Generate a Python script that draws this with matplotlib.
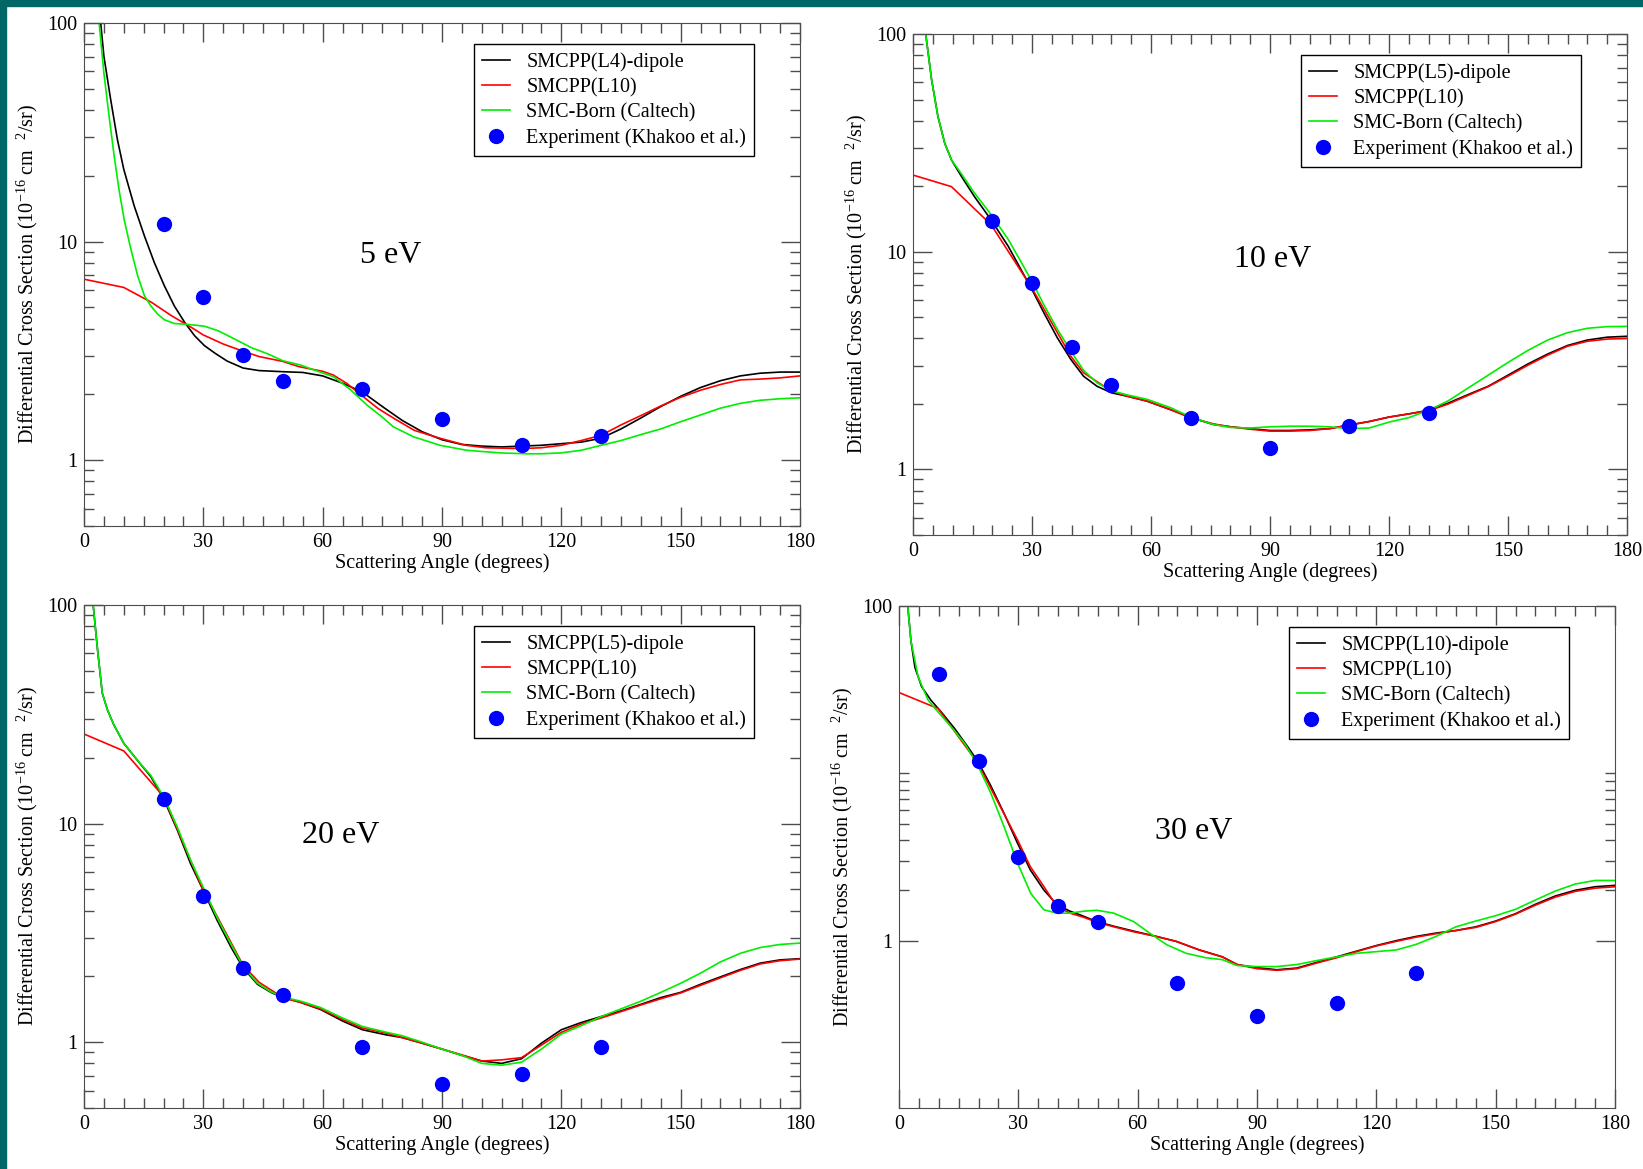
import matplotlib
matplotlib.use('Agg')
import matplotlib.pyplot as plt
from matplotlib.patches import Rectangle
from matplotlib.ticker import FixedLocator, LogLocator, FuncFormatter, MultipleLocator

# ---- 5 eV ----
ang5_dip = [4.2, 5, 6.7, 8.4, 10, 12.6, 15.2, 17.7, 20.2, 22.7, 25.3, 27.8, 30.3, 33, 36, 40, 44, 50,
            55, 60, 65, 70, 75, 80, 85, 90, 95, 100, 105, 110, 115, 120, 125, 130, 135, 140, 145,
            150, 155, 160, 165, 170, 175, 180]
dcs5_dip = [100, 70.5, 44.7, 29.3, 21.4, 14.6, 10.6, 8.0, 6.28, 5.08, 4.27, 3.71, 3.34, 3.08, 2.84,
            2.64, 2.57, 2.54, 2.52, 2.43, 2.25, 2.05, 1.76, 1.52, 1.35, 1.24, 1.18, 1.16, 1.15, 1.16,
            1.17, 1.19, 1.21, 1.26, 1.39, 1.56, 1.76, 1.96, 2.15, 2.31, 2.43, 2.5, 2.53, 2.53]
ang5_l10 = [0, 10, 17, 22, 27, 30, 35, 40, 44, 50, 54, 60, 62.7, 66, 71, 74, 78, 83, 89.5, 96, 101,
            110, 115, 120, 125, 130, 135, 140, 145, 150, 155, 160, 165, 170, 175, 180]
dcs5_l10 = [6.73, 6.17, 5.27, 4.58, 4.05, 3.74, 3.4, 3.15, 2.98, 2.83, 2.68, 2.55, 2.45, 2.25, 1.9,
            1.72, 1.55, 1.37, 1.26, 1.17, 1.14, 1.13, 1.14, 1.17, 1.23, 1.30, 1.45, 1.60, 1.77, 1.94,
            2.09, 2.22, 2.33, 2.35, 2.38, 2.43]
ang5_born = [3.8, 5, 6.3, 7.6, 8.8, 10.1, 11.8, 13.5, 15.2, 16.8, 18.5, 20.2, 22.7, 25.3, 27.8, 30.3,
             33.7, 37.9, 42.1, 46.3, 50, 54.3, 58, 62.7, 67, 71.1, 74.5, 77.8, 82.8, 89.5, 96.2,
             104.6, 111.3, 115, 120, 125, 130, 135, 140, 145, 150, 155, 160, 165, 170, 175, 180]
dcs5_born = [100, 59, 37.5, 24.5, 17.3, 12.6, 9.2, 6.97, 5.65, 5.08, 4.66, 4.39, 4.22, 4.19, 4.15,
             4.1, 3.91, 3.58, 3.27, 3.06, 2.85, 2.73, 2.58, 2.41, 2.1, 1.79, 1.6, 1.42, 1.28, 1.17,
             1.11, 1.08, 1.07, 1.07, 1.08, 1.11, 1.17, 1.23, 1.31, 1.39, 1.50, 1.61, 1.73, 1.82,
             1.88, 1.91, 1.93]

# ---- 10 eV ----
ang10_dip = [3.2, 4.7, 6.3, 8, 9.7, 12.2, 15.5, 19.7, 24, 27.2, 30, 33, 36.4, 39.8, 43, 46.4, 50, 54,
             59, 65, 70, 75.7, 80, 85, 90, 95, 100, 105, 110, 115, 120, 125, 130, 135, 140, 145, 150,
             155, 160, 165, 170, 175, 180]
dcs10_dip = [100, 61.5, 41.7, 31.5, 26.4, 22.2, 17.9, 14.0, 10.6, 8.3, 6.7, 5.24, 4.02, 3.2, 2.68,
             2.41, 2.25, 2.17, 2.06, 1.88, 1.73, 1.61, 1.57, 1.54, 1.51, 1.51, 1.52, 1.54, 1.60, 1.66,
             1.74, 1.80, 1.87, 2.02, 2.21, 2.41, 2.71, 3.05, 3.39, 3.71, 3.93, 4.05, 4.09]
ang10_l10 = [0, 9.7, 19.7, 30, 39.8, 43, 50, 54, 59, 65, 70, 75.7, 80, 85, 90, 95, 100, 105, 110, 115,
             120, 125, 130, 135, 140, 145, 150, 155, 160, 165, 170, 175, 180]
dcs10_l10 = [22.5, 19.9, 13.3, 6.8, 3.31, 2.78, 2.29, 2.17, 2.06, 1.88, 1.73, 1.62, 1.57, 1.53, 1.50,
             1.50, 1.51, 1.54, 1.60, 1.66, 1.74, 1.80, 1.86, 2.0, 2.19, 2.40, 2.68, 3.01, 3.35, 3.68,
             3.88, 3.97, 4.0]
ang10_born = [3.2, 4.7, 6.3, 8, 9.7, 12.2, 15.5, 19.7, 24, 27.2, 30, 33, 36.4, 40, 43, 46.4, 50, 54,
              59, 65, 70, 75.7, 80, 85, 90, 95, 100, 105, 110, 115, 120, 125, 130, 135, 140, 145,
              150, 155, 160, 165, 170, 175, 180]
dcs10_born = [100, 61.5, 41.7, 31.5, 26.4, 22.8, 18.6, 14.8, 11.4, 9.0, 7.3, 5.7, 4.4, 3.45, 2.85,
              2.5, 2.3, 2.2, 2.1, 1.92, 1.74, 1.61, 1.56, 1.55, 1.57, 1.58, 1.58, 1.57, 1.54, 1.55,
              1.65, 1.73, 1.87, 2.07, 2.37, 2.71, 3.1, 3.52, 3.93, 4.25, 4.45, 4.53, 4.54]

# ---- 20 eV ----
ang20_dip = [2.3, 3.4, 4.6, 5.9, 7.5, 10, 13.4, 16.8, 20, 23.5, 26.8, 30, 33.5, 37, 40, 43.6, 47, 50,
             54.5, 59.5, 65, 70, 76, 80, 85, 90, 95, 100, 105, 110, 115, 120, 125, 130, 135, 140, 145,
             150, 155, 160, 165, 170, 175, 180]
dcs20_dip = [100, 62.5, 39.5, 33.1, 28.3, 23.3, 19.5, 16.4, 13.0, 9.3, 6.55, 4.94, 3.6, 2.71, 2.19,
             1.84, 1.69, 1.6, 1.52, 1.41, 1.25, 1.14, 1.08, 1.05, 0.99, 0.93, 0.87, 0.82, 0.80, 0.84,
             0.99, 1.14, 1.23, 1.31, 1.39, 1.49, 1.60, 1.69, 1.84, 1.99, 2.15, 2.30, 2.38, 2.41]
ang20_l10 = [0, 10, 20, 30, 40, 44, 50, 54.5, 59.5, 65, 70, 76, 80, 85, 90, 95, 100, 105, 110, 115,
             120, 125, 130, 135, 140, 145, 150, 155, 160, 165, 170, 175, 180]
dcs20_l10 = [25.7, 21.5, 13.3, 4.94, 2.25, 1.88, 1.6, 1.52, 1.42, 1.27, 1.16, 1.1, 1.05, 0.99, 0.93,
             0.875, 0.82, 0.83, 0.85, 0.97, 1.11, 1.21, 1.29, 1.38, 1.48, 1.58, 1.68, 1.82, 1.97, 2.13,
             2.28, 2.36, 2.40]
ang20_born = ang20_dip
dcs20_born = [100, 62.5, 39.5, 33.1, 28.3, 23.3, 19.5, 16.6, 13.3, 9.6, 6.8, 5.1, 3.7, 2.8, 2.22,
              1.86, 1.70, 1.61, 1.54, 1.44, 1.29, 1.18, 1.11, 1.07, 1.0, 0.93, 0.87, 0.80, 0.785,
              0.81, 0.93, 1.09, 1.19, 1.31, 1.42, 1.54, 1.69, 1.86, 2.07, 2.33, 2.55, 2.71, 2.80, 2.84]

# ---- 30 eV ----
ang30_dip = [2.2, 3, 4, 5.7, 8, 10.6, 14, 17.3, 19.8, 23, 26.4, 29.8, 33, 36.4, 39.7, 43, 46.4, 49.7,
             54, 59, 64.7, 69.7, 75.5, 81.3, 85, 90, 95, 100, 105, 110, 115, 120, 125, 130, 135, 140,
             145, 150, 155, 160, 165, 170, 175, 180]
dcs30_dip = [100, 62, 43, 32.9, 27.4, 23.3, 18.5, 14.4, 11.8, 8.5, 5.77, 3.82, 2.65, 2.01, 1.64,
             1.50, 1.40, 1.30, 1.22, 1.14, 1.06, 0.99, 0.88, 0.80, 0.72, 0.69, 0.67, 0.686, 0.741,
             0.80, 0.865, 0.935, 1.0, 1.06, 1.11, 1.15, 1.21, 1.31, 1.45, 1.65, 1.85, 2.0, 2.1, 2.14]
ang30_l10 = [0, 9.8, 19.8, 29.8, 33, 36.4, 39.7, 43, 46.4, 49.7, 54, 59, 64.7, 69.7, 75.5, 81.3, 85,
             90, 95, 100, 105, 110, 115, 120, 125, 130, 135, 140, 145, 150, 155, 160, 165, 170, 175,
             180]
dcs30_l10 = [30.4, 24.4, 11.5, 4.0, 2.77, 2.11, 1.60, 1.46, 1.38, 1.29, 1.21, 1.13, 1.06, 0.99, 0.88,
             0.80, 0.72, 0.68, 0.665, 0.68, 0.735, 0.79, 0.86, 0.93, 0.99, 1.05, 1.10, 1.15, 1.20,
             1.30, 1.44, 1.63, 1.82, 1.97, 2.06, 2.10]
ang30_born = [2.2, 3, 4.8, 7.3, 9.8, 13.1, 16.5, 19.8, 23.1, 26.4, 29.8, 33.1, 36.4, 39.7, 43, 46.4,
              49.7, 54, 59, 63, 67.3, 72.2, 77.2, 81.3, 85, 90, 95, 100, 105, 110, 115, 120, 125, 130,
              135, 140, 145, 150, 155, 160, 165, 170, 175, 180]
dcs30_born = [100, 62, 37.8, 27.4, 23.3, 19, 15.1, 11.2, 7.6, 4.81, 2.91, 1.92, 1.53, 1.46, 1.46,
              1.50, 1.52, 1.46, 1.30, 1.11, 0.946, 0.84, 0.79, 0.77, 0.71, 0.70, 0.70, 0.72, 0.76,
              0.80, 0.84, 0.86, 0.88, 0.95, 1.06, 1.21, 1.31, 1.41, 1.54, 1.75, 1.98, 2.18, 2.29, 2.29]

# ---- experiment (Khakoo et al.) ----
exp_ang = [20, 30, 40, 50, 70, 90, 110, 130]
exp5 = [12.0, 5.58, 3.03, 2.31, 2.11, 1.54, 1.17, 1.29]
exp10 = [13.8, 7.15, 3.67, 2.43, 1.73, 1.25, 1.58, 1.82]
exp20 = [13.0, 4.67, 2.19, 1.64, 0.953, 0.641, 0.716, 0.953]
exp30_ang = [10, 20, 30, 40, 50, 70, 90, 110, 130]
exp30 = [39.5, 11.9, 3.15, 1.61, 1.29, 0.558, 0.356, 0.427, 0.638]

energies = ['5 eV', '10 eV', '20 eV', '30 eV']
dipole_labels = ['SMCPP(L4)-dipole', 'SMCPP(L5)-dipole', 'SMCPP(L5)-dipole', 'SMCPP(L10)-dipole']

plt.rcParams['font.family'] = ['Liberation Serif', 'DejaVu Serif']
plt.rcParams['mathtext.fontset'] = 'custom'
plt.rcParams['mathtext.rm'] = 'Liberation Serif'
plt.rcParams['mathtext.it'] = 'Liberation Serif:italic'


def _panel(ax, curves, exp_x, exp_y, label, dip_label, text_xy, ymin, sparse_minor=False):
    """Draws one energy panel."""
    (xd, yd), (xl, yl), (xb, yb) = curves
    ax.plot(xd, yd, color='black', lw=1.2, label=dip_label)
    ax.plot(xl, yl, color='#ff0000', lw=1.2, label='SMCPP(L10)')
    ax.plot(xb, yb, color='#00ee00', lw=1.2, label='SMC-Born (Caltech)')
    ax.plot(exp_x, exp_y, 'o', color='#0000ff', ms=11, mec='none',
            label='Experiment (Khakoo et al.)')
    ax.set_yscale('log')
    ax.set_xlim(0, 180)
    ax.set_ylim(ymin, 100)
    ax.xaxis.set_major_locator(MultipleLocator(30))
    ax.xaxis.set_minor_locator(MultipleLocator(5))
    if sparse_minor:
        ax.yaxis.set_major_locator(FixedLocator([1, 100]))
        ax.yaxis.set_minor_locator(FixedLocator([2, 3, 4, 5, 6, 7, 8, 9, 10]))
    else:
        ax.yaxis.set_major_locator(FixedLocator([1, 10, 100]))
        ax.yaxis.set_minor_locator(LogLocator(subs=range(2, 10)))
    ax.yaxis.set_major_formatter(FuncFormatter(lambda v, p: f'{v:g}'))
    ax.yaxis.set_minor_formatter(FuncFormatter(lambda v, p: ''))
    ax.tick_params(which='both', direction='in', top=True, right=True,
                   color='0.3', labelsize=14.5, pad=5)
    ax.tick_params(which='major', length=14, width=1)
    ax.tick_params(which='minor', length=7, width=1)
    for s in ax.spines.values():
        s.set_color('0.3')
    ax.set_xlabel('Scattering Angle (degrees)', fontsize=14.5, labelpad=1)
    ax.set_ylabel('Differential Cross Section (10$^{-16}$ cm  $^{2}$/sr)', fontsize=14.5,
                  labelpad=5)
    ax.text(text_xy[0], text_xy[1], label, transform=ax.transAxes, fontsize=23,
            ha='center', va='center')
    leg = ax.legend(loc='upper right', bbox_to_anchor=(0.936, 0.958), borderaxespad=0,
                    fontsize=14.5, handlelength=1.4, handletextpad=0.8, labelspacing=0.3,
                    borderpad=0.4, fancybox=False, framealpha=1)
    leg.get_frame().set_edgecolor('black')
    leg.get_frame().set_linewidth(1)


fig = plt.figure(figsize=(16.43, 11.69), dpi=100)
fig.patches.append(Rectangle((0, 1 - 6 / 1169), 1, 6 / 1169, transform=fig.transFigure,
                             color='#006666', zorder=0))
fig.patches.append(Rectangle((0, 0), 6 / 1643, 1, transform=fig.transFigure,
                             color='#006666', zorder=0))

ax1 = fig.add_axes([84 / 1643, 1 - 526 / 1169, 716 / 1643, 503 / 1169])
_panel(ax1, [(ang5_dip, dcs5_dip), (ang5_l10, dcs5_l10), (ang5_born, dcs5_born)],
       exp_ang, exp5, energies[0], dipole_labels[0], (0.428, 0.537), 0.5)

ax2 = fig.add_axes([913 / 1643, 1 - 535 / 1169, 714 / 1643, 501 / 1169])
_panel(ax2, [(ang10_dip, dcs10_dip), (ang10_l10, dcs10_l10), (ang10_born, dcs10_born)],
       exp_ang, exp10, energies[1], dipole_labels[1], (0.504, 0.549), 0.5)

ax3 = fig.add_axes([84 / 1643, 1 - 1108 / 1169, 716 / 1643, 503 / 1169])
_panel(ax3, [(ang20_dip, dcs20_dip), (ang20_l10, dcs20_l10), (ang20_born, dcs20_born)],
       exp_ang, exp20, energies[2], dipole_labels[2], (0.358, 0.542), 0.5)

ax4 = fig.add_axes([899 / 1643, 1 - 1108 / 1169, 716 / 1643, 502 / 1169])
_panel(ax4, [(ang30_dip, dcs30_dip), (ang30_l10, dcs30_l10), (ang30_born, dcs30_born)],
       exp30_ang, exp30, energies[3], dipole_labels[3], (0.411, 0.551), 0.1, sparse_minor=True)

fig.savefig('out.png', dpi=100)
